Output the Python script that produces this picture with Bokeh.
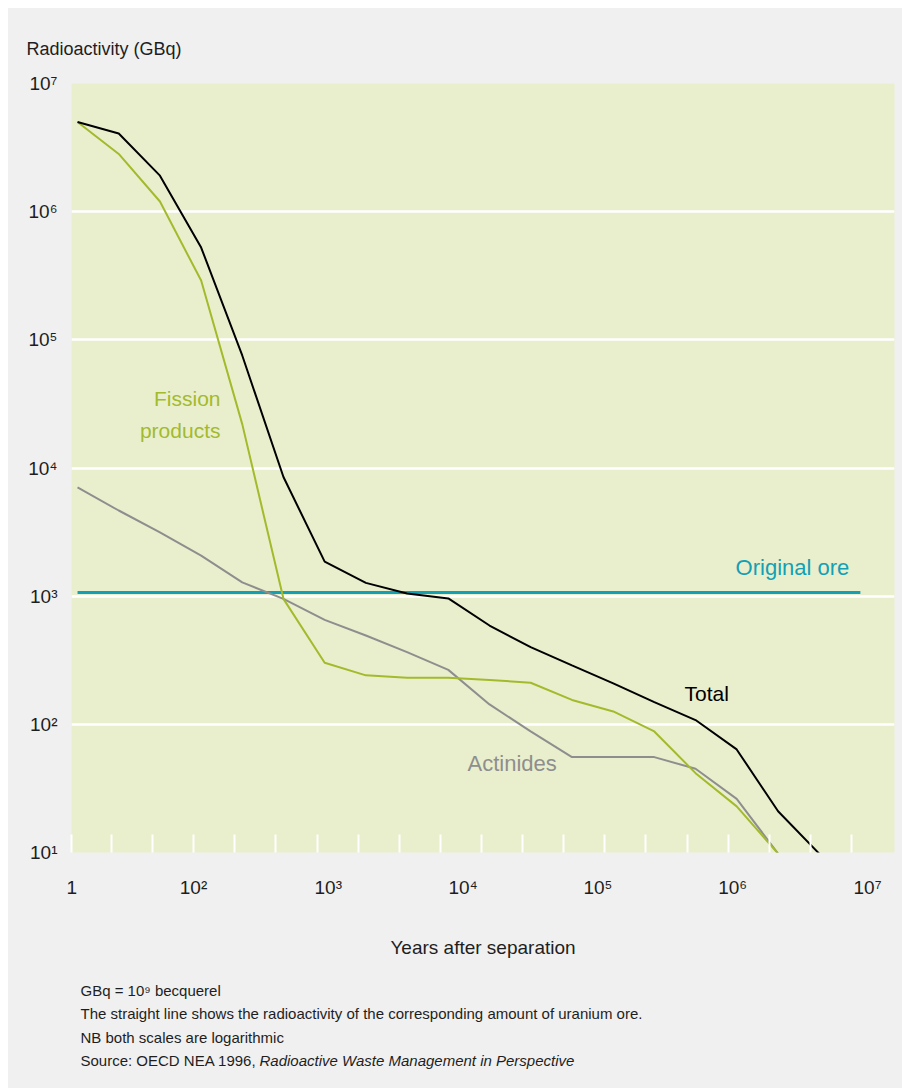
from bokeh.plotting import figure
from bokeh.models import FixedTicker, Label
from bokeh.layouts import column
from bokeh.embed import file_html
from bokeh.resources import INLINE

# ---------------- data ----------------
YEARS = [13.8, 27.9, 56.4, 114, 230, 465, 940, 1900, 3840, 7770, 15700, 31700,
         64200, 130000, 262000, 530000, 1.07e6, 2.17e6, 4.38e6, 8.85e6]
TOTAL = [5.0e6, 4.07e6, 1.91e6, 5.25e5, 7.55e4, 8.5e3, 1.86e3, 1.27e3, 1.05e3, 960,
         590, 400, 288, 209, 149, 108, 63.7, 21, 9.8]
FISSION = [5.0e6, 2.82e6, 1.2e6, 2.9e5, 2.2e4, 953, 302, 241, 231, 231,
           222, 211, 155, 126, 88, 41.6, 22.9, 9.8]
ACTINIDES = [7050, 4660, 3140, 2070, 1280, 953, 653, 493, 366, 266,
             143, 88, 55.5, 55.5, 55.5, 45, 26.2, 9.8]
ORE_YEARS = [13.8, 8.85e6]
ORE = [1070, 1070]

X_TICKS = [12.5, 1e2, 1e3, 1e4, 1e5, 1e6, 1e7]
X_LABELS = ["1", "10²", "10³", "10⁴", "10⁵", "10⁶", "10⁷"]
X_MINOR = [12.5, 24.7, 49.8, 100.5, 203, 409, 826, 1667, 3364, 6786, 13700, 27640,
           55780, 112500, 227100, 458300, 924700, 1.866e6, 3.765e6, 7.6e6]
Y_TICKS = [10, 1e2, 1e3, 1e4, 1e5, 1e6, 1e7]
Y_LABELS = ["10¹", "10²", "10³", "10⁴", "10⁵", "10⁶", "10⁷"]
GRID_TICKS = [1e2, 1e3, 1e4, 1e5, 1e6]

FOOTNOTES = [
    "GBq = 10⁹ becquerel",
    "The straight line shows the radioactivity of the corresponding amount of uranium ore.",
    "NB both scales are logarithmic",
]
SOURCE = "Source: OECD NEA 1996,"
SOURCE_TITLE = "Radioactive Waste Management in Perspective"

FONT = "Liberation Sans"
GREEN = "#a3ba2c"
TEAL = "#13a0b5"
GREY = "#8e8e8e"
TXT = "#1e1e1e"
BG = "#f0f0f0"
W = 894
LEFT, RIGHT = 63, 8


def lab(fig, x, y, text, color, size, align="left", style="normal"):
    fig.add_layout(Label(x=x, y=y, text=text, text_color=color,
                         text_font=FONT, text_font_size=size,
                         text_align=align, text_baseline="middle",
                         text_font_style=style))


# ---------------- main chart ----------------
p = figure(width=W, height=965, x_axis_type="log", y_axis_type="log",
           x_range=(12.45, 1.585e7), y_range=(10, 1e7),
           output_backend="svg", toolbar_location=None,
           min_border_left=LEFT, min_border_right=RIGHT, min_border_top=75,
           min_border_bottom=121,
           background_fill_color="#e9efcc", border_fill_color=BG,
           outline_line_color=None)

p.title.text = "Radioactivity (GBq)"
p.title.align = "left"
p.title.offset = -45
p.title.standoff = 50
p.title.text_font = FONT
p.title.text_font_size = "18px"
p.title.text_font_style = "normal"
p.title.text_color = TXT

xa = p.xaxis[0]
xa.ticker = FixedTicker(ticks=X_TICKS, minor_ticks=X_MINOR)
xa.major_label_overrides = dict(zip(X_TICKS, X_LABELS))
xa.major_tick_line_color = None
xa.major_tick_in = 0
xa.major_tick_out = 0
xa.minor_tick_line_color = "white"
xa.minor_tick_line_width = 2
xa.minor_tick_in = 18
xa.minor_tick_out = 0
xa.axis_line_color = None
xa.major_label_standoff = 24
xa.major_label_text_font = FONT
xa.major_label_text_font_size = "19px"
xa.major_label_text_color = TXT
xa.axis_label = "Years after separation"
xa.axis_label_standoff = 36
xa.axis_label_text_font = FONT
xa.axis_label_text_font_size = "19px"
xa.axis_label_text_font_style = "normal"
xa.axis_label_text_color = TXT

ya = p.yaxis[0]
ya.ticker = FixedTicker(ticks=Y_TICKS)
ya.major_label_overrides = dict(zip(Y_TICKS, Y_LABELS))
ya.major_tick_line_color = None
ya.major_tick_in = 0
ya.major_tick_out = 0
ya.minor_tick_line_color = None
ya.minor_tick_in = 0
ya.minor_tick_out = 0
ya.axis_line_color = None
ya.major_label_standoff = 14
ya.major_label_text_font = FONT
ya.major_label_text_font_size = "19px"
ya.major_label_text_color = TXT

p.xgrid.visible = False
p.ygrid.ticker = FixedTicker(ticks=GRID_TICKS)
p.ygrid.grid_line_color = "white"
p.ygrid.grid_line_width = 2.5

p.line(ORE_YEARS, ORE, line_color=TEAL, line_width=3)
p.line(YEARS[:len(ACTINIDES)], ACTINIDES, line_color=GREY, line_width=2)
p.line(YEARS[:len(FISSION)], FISSION, line_color=GREEN, line_width=2)
p.line(YEARS[:len(TOTAL)], TOTAL, line_color="black", line_width=2)

lab(p, 158.6, 3.48e4, "Fission", GREEN, "21px", "right")
lab(p, 158.6, 1.96e4, "products", GREEN, "21px", "right")
lab(p, 1.05e6, 1675, "Original ore", TEAL, "22px")
lab(p, 4.39e5, 174, "Total", "black", "21px")
lab(p, 10780, 49.4, "Actinides", GREY, "22px")

# ---------------- footer (notes) ----------------
FH = 115
footer = figure(width=W, height=FH, x_range=(LEFT, W - RIGHT), y_range=(0, FH),
                output_backend="svg", toolbar_location=None,
                min_border_left=LEFT, min_border_right=RIGHT,
                min_border_top=0, min_border_bottom=0,
                background_fill_color=BG, border_fill_color=BG,
                outline_line_color=None)
footer.axis.visible = False
footer.grid.visible = False
for y, t in zip([98, 75, 51], FOOTNOTES):
    lab(footer, 72, y, t, TXT, "15px")
lab(footer, 72, 28, SOURCE, TXT, "15px")
lab(footer, 251, 28, SOURCE_TITLE, TXT, "15px", style="italic")

layout = column(p, footer, spacing=0, margin=(8, 0, 0, 8),
                styles={"background-color": BG})

open("out.html", "w").write(file_html(layout, INLINE))
